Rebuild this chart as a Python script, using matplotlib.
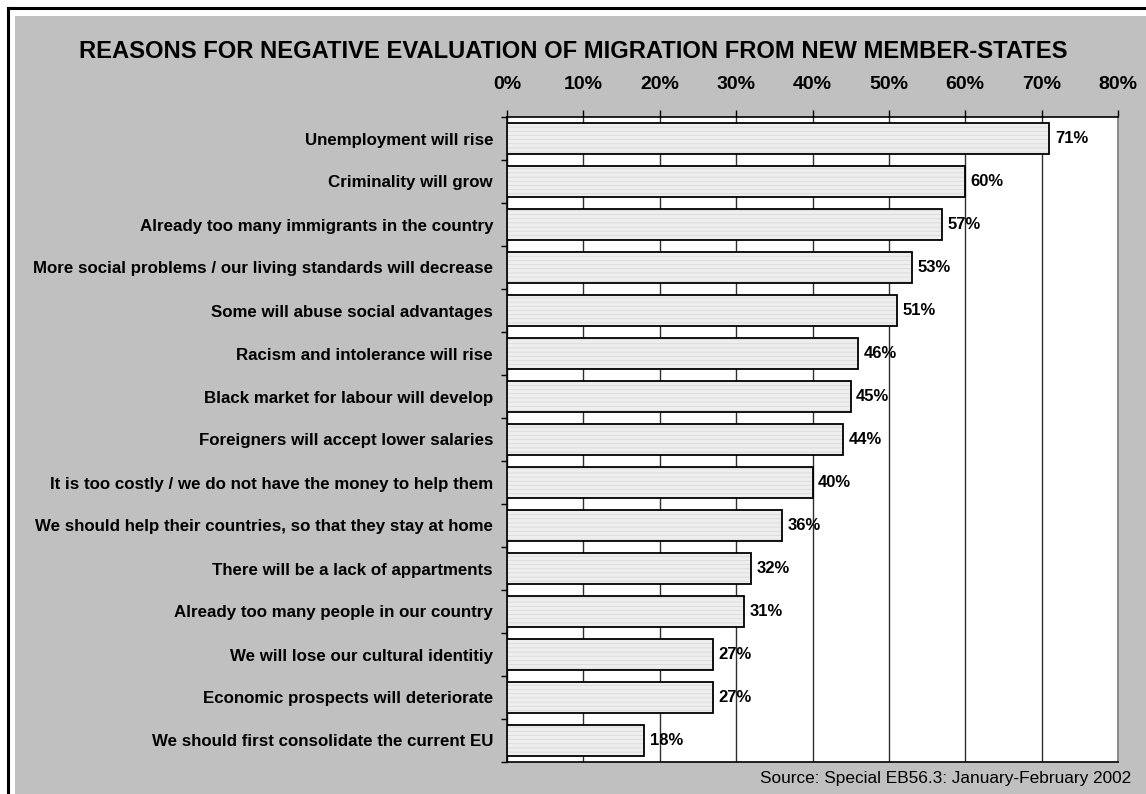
import matplotlib
matplotlib.use("Agg")
import matplotlib.pyplot as plt
from matplotlib.patches import Rectangle
from matplotlib.lines import Line2D
from matplotlib.ticker import FixedLocator

categories = [
    "Unemployment will rise",
    "Criminality will grow",
    "Already too many immigrants in the country",
    "More social problems / our living standards will decrease",
    "Some will abuse social advantages",
    "Racism and intolerance will rise",
    "Black market for labour will develop",
    "Foreigners will accept lower salaries",
    "It is too costly / we do not have the money to help them",
    "We should help their countries, so that they stay at home",
    "There will be a lack of appartments",
    "Already too many people in our country",
    "We will lose our cultural identitiy",
    "Economic prospects will deteriorate",
    "We should first consolidate the current EU",
]
values = [71, 60, 57, 53, 51, 46, 45, 44, 40, 36, 32, 31, 27, 27, 18]
xticks = [0, 10, 20, 30, 40, 50, 60, 70, 80]
xtick_labels = ["0%", "10%", "20%", "30%", "40%", "50%", "60%", "70%", "80%"]
title = "REASONS FOR NEGATIVE EVALUATION OF MIGRATION FROM NEW MEMBER-STATES"
source = "Source: Special EB56.3: January-February 2002"

plt.rcParams['font.family'] = ['Liberation Sans', 'DejaVu Sans']
plt.rcParams['hatch.linewidth'] = 0.5

W, H = 1146, 794
fig = plt.figure(figsize=(W / 100, H / 100), dpi=100)
fig.patch.set_facecolor('white')

# background frame
fig.patches.append(Rectangle((15 / W, 0), 1, 1 - 16 / H, transform=fig.transFigure,
                             facecolor='#C0C0C0', edgecolor='none', zorder=-10))
fig.lines.append(Line2D([7.5 / W, 7.5 / W], [0, 1 - 7.5 / H], transform=fig.transFigure,
                        color='black', lw=2.2, zorder=-5))
fig.lines.append(Line2D([7.5 / W, 1], [1 - 7.5 / H, 1 - 7.5 / H], transform=fig.transFigure,
                        color='black', lw=2.2, zorder=-5))

left, right, top, bottom = 507 / W, 1118 / W, 1 - 117 / H, 1 - 762 / H
ax = fig.add_axes([left, bottom, right - left, top - bottom])
ax.set_zorder(5)
ax.set_facecolor('white')

n = len(categories)
ypos = list(range(n))
# striped fill
ax.barh(ypos, values, height=0.72, facecolor='#EEEEEE', edgecolor='#D6D6D6',
        linewidth=0, hatch='----', zorder=3)
# black outline
ax.barh(ypos, values, height=0.72, fill=False, edgecolor='black',
        linewidth=1.3, zorder=4)

ax.set_ylim(n - 0.5, -0.5)
ax.set_xlim(0, 80)
ax.xaxis.set_major_locator(FixedLocator(xticks))
ax.set_xticklabels(xtick_labels)
ax.xaxis.tick_top()
ax.tick_params(axis='x', which='major', length=5, width=1, pad=12, labelsize=14,
               direction='out', color='black')
for lab in ax.get_xticklabels():
    lab.set_fontweight('bold')

ax.set_yticks(ypos)
ax.set_yticklabels(categories, fontsize=12.2, fontweight='bold')
ax.tick_params(axis='y', which='major', length=0, pad=10)
ax.yaxis.set_minor_locator(FixedLocator([i - 0.5 for i in range(n + 1)]))
ax.tick_params(axis='y', which='minor', length=4, width=1, color='black', direction='out')

ax.grid(axis='x', color='#303030', linewidth=1, zorder=1)
ax.set_axisbelow(True)
for side in ['left', 'top', 'bottom']:
    ax.spines[side].set_color('black')
    ax.spines[side].set_linewidth(1.2)
ax.spines['right'].set_color('#808080')
ax.spines['right'].set_linewidth(1.2)

for y, v in zip(ypos, values):
    ax.annotate(f"{v}%", (v, y), xytext=(4, 0), textcoords='offset points',
                va='center', ha='left', fontsize=12, fontweight='bold', zorder=5)

fig.text(0.5, 1 - 52 / H, title, ha='center', va='center', fontsize=17.1, fontweight='bold')
fig.text(1131 / W, 1 - 778 / H, source, ha='right', va='center', fontsize=12.4)

fig.savefig('out.png', dpi=100, facecolor=fig.get_facecolor())
